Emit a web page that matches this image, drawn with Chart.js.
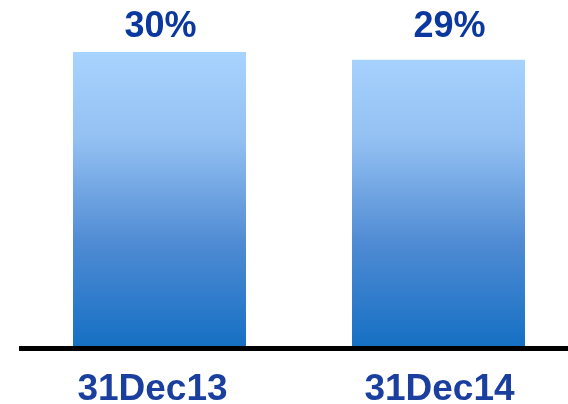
<!DOCTYPE html>
<html>
<head>
<meta charset="utf-8">
<script src="https://cdn.jsdelivr.net/npm/chart.js@4"></script>
<style>
  html, body { margin: 0; padding: 0; background: #ffffff; overflow: hidden; width: 568px; height: 404px; }
  canvas { display: block; }
</style>
</head>
<body>
<canvas id="c" width="580" height="404" style="width:580px;height:404px"></canvas>
<script>
const categories = ['31Dec13', '31Dec14'];
const values = [30, 29.2];
const valueLabels = ['30%', '29%'];

const FONT = '"Liberation Sans", Arial, sans-serif';

function barGradient(ctx) {
  const chart = ctx.chart;
  const area = chart.chartArea;
  if (!area) return '#7aa9e6';
  const g = chart.ctx.createLinearGradient(0, area.bottom, 0, area.top);
  g.addColorStop(0, '#1670c4');
  g.addColorStop(0.35, '#4f8bd3');
  g.addColorStop(0.7, '#93c0f2');
  g.addColorStop(1, '#a8d3ff');
  return g;
}

const axisLine = {
  id: 'axisLine',
  afterDatasetsDraw(chart) {
    const c = chart.ctx;
    const y = chart.scales.y.getPixelForValue(0) + 2.5;
    c.save();
    c.strokeStyle = '#000000';
    c.lineWidth = 5;
    c.beginPath();
    c.moveTo(19, y);
    c.lineTo(chart.width, y);
    c.stroke();
    c.restore();
  }
};

const textPlugin = {
  id: 'texts',
  afterDatasetsDraw(chart) {
    const c = chart.ctx;
    const meta = chart.getDatasetMeta(0);
    const xs = chart.scales.x;
    const valueShift = [1, 11];
    const catShift = [-7, 1];
    const base = chart.scales.y.getPixelForValue(0);
    c.save();
    c.textAlign = 'center';
    c.textBaseline = 'alphabetic';
    c.font = 'bold 36px ' + FONT;
    c.fillStyle = '#0a389f';
    meta.data.forEach((bar, i) => {
      c.fillText(valueLabels[i], bar.x + valueShift[i], chart.chartArea.top - 15);
    });
    c.font = 'bold 37px ' + FONT;
    c.fillStyle = '#1a3f9e';
    categories.forEach((label, i) => {
      c.fillText(label, xs.getPixelForValue(i) + catShift[i], base + 54);
    });
    c.restore();
  }
};

new Chart(document.getElementById('c'), {
  type: 'bar',
  data: {
    labels: categories,
    datasets: [{
      data: values,
      backgroundColor: barGradient,
      borderWidth: 0,
      barPercentage: 0.62,
      categoryPercentage: 1.0
    }]
  },
  options: {
    responsive: false,
    animation: false,
    layout: { padding: { left: 20, right: 2, top: 52, bottom: 58 } },
    plugins: { legend: { display: false }, tooltip: { enabled: false } },
    scales: {
      x: {
        grid: { display: false, drawTicks: false },
        border: { display: false },
        ticks: { display: false }
      },
      y: {
        display: false,
        min: 0,
        max: 30
      }
    }
  },
  plugins: [axisLine, textPlugin]
});
</script>
</body>
</html>
